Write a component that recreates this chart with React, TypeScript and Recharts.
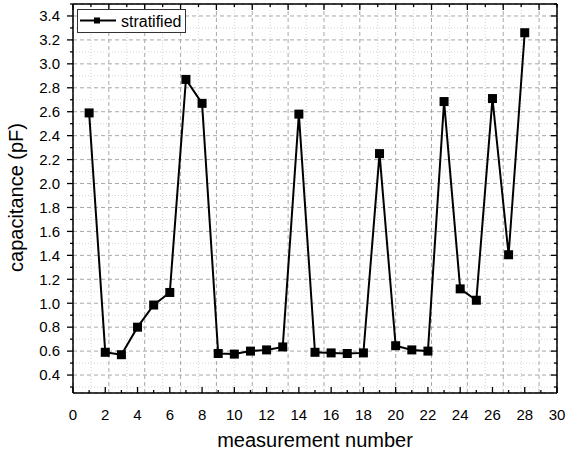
import React from 'react';
import { LineChart, Line, XAxis, YAxis, CartesianGrid, Label } from 'recharts';

const measurement = [1, 2, 3, 4, 5, 6, 7, 8, 9, 10, 11, 12, 13, 14, 15, 16, 17, 18, 19, 20, 21, 22, 23, 24, 25, 26, 27, 28];
const capacitance = [2.59, 0.59, 0.57, 0.8, 0.985, 1.09, 2.87, 2.67, 0.58, 0.575, 0.6, 0.61, 0.635, 2.58, 0.59, 0.585, 0.58, 0.585, 2.25, 0.645, 0.61, 0.6, 2.685, 1.12, 1.025, 2.71, 1.405, 3.26];

const xTicksAll = [0, 1, 2, 3, 4, 5, 6, 7, 8, 9, 10, 11, 12, 13, 14, 15, 16, 17, 18, 19, 20, 21, 22, 23, 24, 25, 26, 27, 28, 29, 30];
const xGridMajor = [2, 4, 6, 8, 10, 12, 14, 16, 18, 20, 22, 24, 26, 28];
const xGridMinor = [1, 3, 5, 7, 9, 11, 13, 15, 17, 19, 21, 23, 25, 27, 29];
const yTicksAll = [0.3, 0.4, 0.5, 0.6, 0.7, 0.8, 0.9, 1.0, 1.1, 1.2, 1.3, 1.4, 1.5, 1.6, 1.7, 1.8, 1.9, 2.0, 2.1, 2.2, 2.3, 2.4, 2.5, 2.6, 2.7, 2.8, 2.9, 3.0, 3.1, 3.2, 3.3, 3.4, 3.5];
const yGridMajor = [0.4, 0.6, 0.8, 1.0, 1.2, 1.4, 1.6, 1.8, 2.0, 2.2, 2.4, 2.6, 2.8, 3.0, 3.2, 3.4];
const yGridMinor = [0.3, 0.5, 0.7, 0.9, 1.1, 1.3, 1.5, 1.7, 1.9, 2.1, 2.3, 2.5, 2.7, 2.9, 3.1, 3.3];

const data = measurement.map((n, i) => ({ n, c: capacitance[i] }));

const FONT = '"Liberation Sans", Arial, Helvetica, sans-serif';
const MAJOR = 6;
const MINOR = 3;

const isMajorX = (v: number) => Math.round(v) % 2 === 0;
const isMajorY = (v: number) => Math.round(v * 10) % 2 === 0;

const BottomTick = (props: any) => {
  const { x, y, payload } = props;
  const v = payload.value;
  const major = isMajorX(v);
  return (
    <g>
      <line x1={x} x2={x} y1={y} y2={y - (major ? MAJOR : MINOR)} stroke="#000" strokeWidth={1.3} />
      {major && (
        <text x={x} y={y + 26.5} textAnchor="middle" fontSize={15} fontFamily={FONT} fill="#000">
          {v}
        </text>
      )}
    </g>
  );
};

const TopTick = (props: any) => {
  const { x, y, payload } = props;
  const major = isMajorX(payload.value);
  return <line x1={x} x2={x} y1={y} y2={y + (major ? MAJOR : MINOR)} stroke="#000" strokeWidth={1.3} />;
};

const LeftTick = (props: any) => {
  const { x, y, payload } = props;
  const v = payload.value;
  const major = isMajorY(v);
  return (
    <g>
      <line x1={x} x2={x - (major ? MAJOR : MINOR)} y1={y} y2={y} stroke="#000" strokeWidth={1.3} />
      {major && v < 3.45 && v > 0.35 && (
        <text x={x - 13} y={y + 5.3} textAnchor="end" fontSize={15} fontFamily={FONT} fill="#000">
          {v.toFixed(1)}
        </text>
      )}
    </g>
  );
};

const RightTick = (props: any) => {
  const { x, y, payload } = props;
  const major = isMajorY(payload.value);
  return <line x1={x} x2={x - (major ? MAJOR : MINOR)} y1={y} y2={y} stroke="#000" strokeWidth={1.3} />;
};

const SquareDot = (props: any) => {
  const { cx, cy } = props;
  if (cx == null || cy == null) return null;
  return <rect x={cx - 4.5} y={cy - 4.5} width={9} height={9} fill="#000" />;
};

const axisLine = { stroke: '#000', strokeWidth: 1.5 };

export default function App() {
  return (
    <div style={{ position: 'absolute', left: 0, top: 0, width: 566, height: 452, background: '#fff' }}>
      <LineChart width={566} height={452} data={data} margin={{ top: 0, right: 0, bottom: 0, left: 0 }}>
        <XAxis
          xAxisId="b"
          dataKey="n"
          type="number"
          domain={[0, 30]}
          allowDataOverflow
          ticks={xTicksAll}
          interval={0}
          tickSize={0}
          tickMargin={0}
          tickLine={false}
          tick={<BottomTick />}
          axisLine={axisLine}
          height={59}
        >
          <Label
            content={(p: any) => {
              const vb = p.viewBox || { x: 73, y: 393, width: 484 };
              return (
                <text x={vb.x + vb.width / 2} y={vb.y + 54} textAnchor="middle" fontSize={20} fontFamily={FONT} fill="#000">
                  measurement number
                </text>
              );
            }}
          />
        </XAxis>
        <XAxis
          xAxisId="t"
          orientation="top"
          type="number"
          domain={[0, 30]}
          allowDataOverflow
          ticks={xTicksAll}
          interval={0}
          tickSize={0}
          tickMargin={0}
          tickLine={false}
          tick={<TopTick />}
          axisLine={axisLine}
          height={4}
        />
        <XAxis xAxisId="gx" type="number" domain={[0, 30]} allowDataOverflow ticks={xGridMajor} interval={0} height={0} hide />
        <XAxis xAxisId="mx" type="number" domain={[0, 30]} allowDataOverflow ticks={xGridMinor} interval={0} height={0} hide />
        <YAxis
          yAxisId="l"
          type="number"
          domain={[0.25, 3.5]}
          allowDataOverflow
          ticks={yTicksAll}
          interval={0}
          tickSize={0}
          tickMargin={0}
          tickLine={false}
          tick={<LeftTick />}
          axisLine={axisLine}
          width={73}
        >
          <Label
            content={(p: any) => {
              const vb = p.viewBox || { x: 0, y: 4, width: 73, height: 389 };
              const cy = vb.y + vb.height / 2 - 1;
              return (
                <text x={23} y={cy} transform={`rotate(-90 23 ${cy})`} textAnchor="middle" fontSize={20} fontFamily={FONT} fill="#000">
                  capacitance (pF)
                </text>
              );
            }}
          />
        </YAxis>
        <YAxis
          yAxisId="r"
          orientation="right"
          type="number"
          domain={[0.25, 3.5]}
          allowDataOverflow
          ticks={yTicksAll}
          interval={0}
          tickSize={0}
          tickMargin={0}
          tickLine={false}
          tick={<RightTick />}
          axisLine={axisLine}
          width={9}
        />
        <YAxis yAxisId="gy" type="number" domain={[0.25, 3.5]} allowDataOverflow ticks={yGridMajor} interval={0} width={0} hide />
        <YAxis yAxisId="my" type="number" domain={[0.25, 3.5]} allowDataOverflow ticks={yGridMinor} interval={0} width={0} hide />
        <CartesianGrid xAxisId="mx" yAxisId="my" stroke="#d4d4d4" strokeDasharray="1 2" strokeWidth={1} />
        <CartesianGrid xAxisId="gx" yAxisId="gy" stroke="#a8a8a8" strokeDasharray="4 3" strokeWidth={1} />
        <Line
          xAxisId="b"
          yAxisId="l"
          type="linear"
          dataKey="c"
          name="stratified"
          stroke="#000"
          strokeWidth={2}
          dot={<SquareDot />}
          activeDot={false}
          isAnimationActive={false}
        />
      </LineChart>
      <svg width={566} height={452} style={{ position: 'absolute', left: 0, top: 0, pointerEvents: 'none' }}>
        <rect x={77.5} y={9.5} width={108} height={23} fill="#fff" stroke="#333" strokeWidth={1} />
        <line x1={80} x2={116} y1={20.5} y2={20.5} stroke="#000" strokeWidth={2} />
        <rect x={94} y={17.5} width={6} height={6} fill="#000" />
        <text x={121} y={26.5} fontSize={16} fontFamily={FONT} fill="#000">stratified</text>
      </svg>
    </div>
  );
}
